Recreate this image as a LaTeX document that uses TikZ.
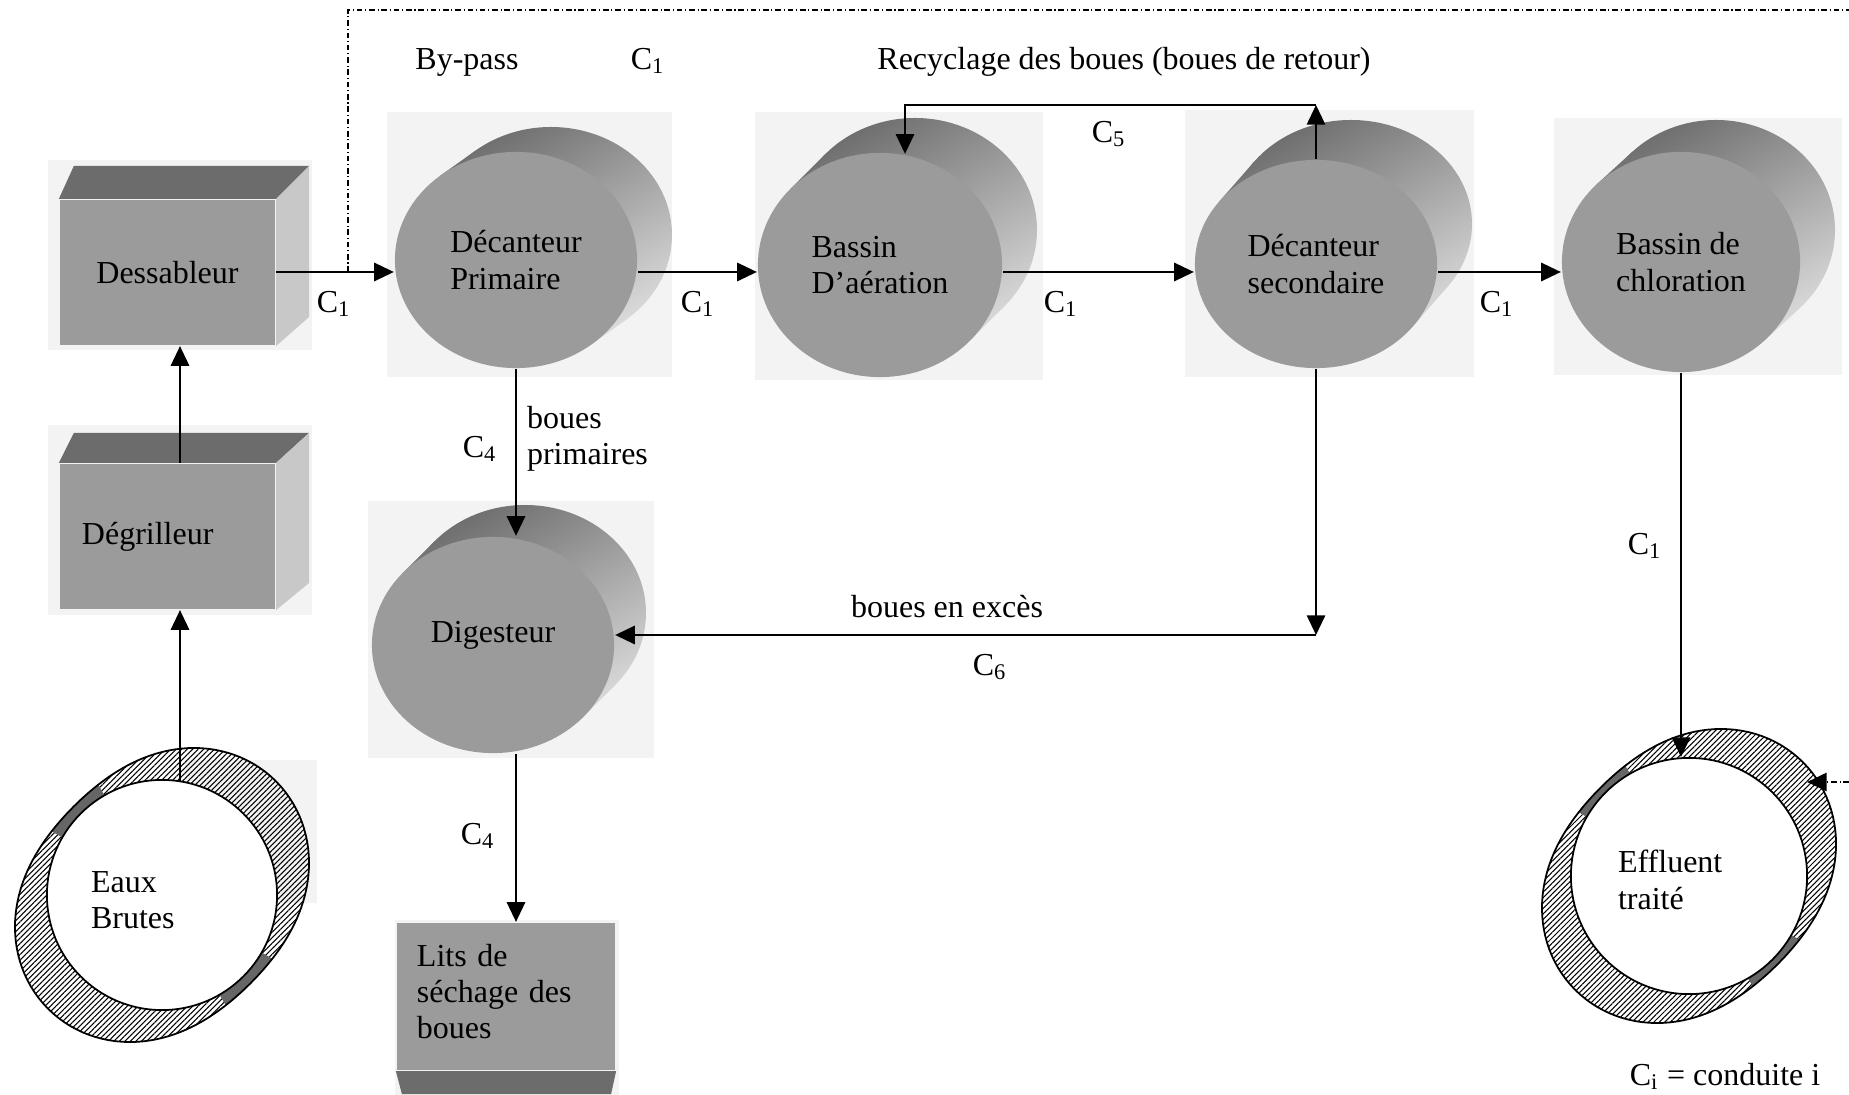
\documentclass[tikz,border=0pt]{standalone}
\usepackage{fontspec}
\setmainfont{Liberation Serif}
\usetikzlibrary{arrows.meta,shapes.geometric,patterns.meta,calc}

\definecolor{faceG}{HTML}{9B9B9B}
\definecolor{topG}{HTML}{6C6C6C}
\definecolor{sideG}{HTML}{C8C8C8}
\definecolor{bodyDark}{HTML}{6A6A6A}
\definecolor{bodyLight}{HTML}{E2E2E2}
\definecolor{plateG}{HTML}{F3F3F3}

% Cylindrical tank: #1 name, (#2,#3) front centre, #4/#5 radii, (#6,#7) depth offset, #8 label
\newcommand{\tank}[8]{%
  \pgfmathsetmacro{\tkT}{atan2(-(#5)*(#6),(#4)*(#7))}%
  \pgfmathsetmacro{\tkX}{(#4)*cos(\tkT)}%
  \pgfmathsetmacro{\tkY}{(#5)*sin(\tkT)}%
  \begin{scope}
    \clip ({#2+(\tkX)},{#3+(\tkY)}) -- ++(#6,#7) -- ({#2-(\tkX)+#6},{#3-(\tkY)+#7}) -- ({#2-(\tkX)},{#3-(\tkY)}) -- cycle;
    \shade[tankshade] ({#2-#4},{#3+#7-#5}) rectangle ({#2+#6+#4},{#3+#5});
  \end{scope}
  \begin{scope}
    \clip ({#2+#6},{#3+#7}) ellipse [x radius=#4, y radius=#5];
    \shade[tankshade] ({#2-#4},{#3+#7-#5}) rectangle ({#2+#6+#4},{#3+#5});
  \end{scope}
  \node[tankfront, minimum width={0.02cm*#4}, minimum height={0.02cm*#5}] (#1) at (#2,#3) {#8};
}

% Outer contour of a ring, pinched towards the upper-left and lower-right
\newcommand{\ringpath}[2]{%
  plot[domain=0:360, samples=145, variable=\ang]
    ({#1+(161-36*sin(\ang-45)^2)*cos(\ang)}, {#2-(161-36*sin(\ang-45)^2)*sin(\ang)}) -- cycle}

% Hatched ring: #1 name, (#2,#3) centre, #4 inner radius
\newcommand{\hatchring}[4]{%
  \begin{scope}
    \clip \ringpath{#2}{#3};
    \fill[pattern={Lines[angle=45,distance=1.1pt,line width=0.3pt]}]
      ({#2-175},{#3-175}) rectangle ({#2+175},{#3+175});
    \fill[black!60] (#2,#3) -- ($(#2,#3)+(-120:200)$) -- ($(#2,#3)+(-150:200)$) -- cycle;
    \fill[black!60] (#2,#3) -- ($(#2,#3)+(30:200)$) -- ($(#2,#3)+(60:200)$) -- cycle;
  \end{scope}
  \draw[line width=0.5pt] \ringpath{#2}{#3};
  \node[circle, fill=white, draw, line width=0.5pt, minimum size={0.02cm*#4}] (#1) at (#2,#3) {};
}

\begin{document}
\begin{tikzpicture}[x=0.01cm, y=-0.01cm, line width=0.6pt,
  every node/.style={font=\fontsize{9.1}{10.3}\selectfont, inner sep=0pt},
  arr/.style={-{Triangle[length=5.6pt,width=5.2pt]}},
  bypass/.style={dash pattern=on 1.6pt off 0.8pt on 0.3pt off 0.8pt, line width=0.6pt},
  plate/.style={fill=plateG},
  boxfront/.style={rectangle, fill=faceG, minimum width=2.15cm, minimum height=1.45cm},
  boxtop/.style={fill=topG},
  boxside/.style={fill=sideG},
  tankfront/.style={ellipse, fill=faceG, align=left},
  tankshade/.style={top color=bodyDark, bottom color=bodyLight, shading angle=30}]

\useasboundingbox (0,0) rectangle (1849,1095);

% light backing plates behind the units
\fill[plate] (48,160) rectangle (312,350);
\fill[plate] (48,425) rectangle (312,615);
\fill[plate] (387,112) rectangle (672,377);
\fill[plate] (755,112) rectangle (1043,380);
\fill[plate] (1185,110) rectangle (1474,377);
\fill[plate] (1554,118) rectangle (1842,375);
\fill[plate] (368,501) rectangle (654,758);
\fill[plate] (395,920) rectangle (619,1095);
\fill[plate] (185,760) rectangle (317,903);

% pretreatment boxes
\node[boxfront] (des) at (167.5,272.5) {Dessableur};
\fill[boxtop] (des.north west) -- (des.north east) -- ++(33,-33) -- ($(des.north west)+(15,-33)$) -- cycle;
\fill[boxside] (des.north east) -- ++(33,-33) -- ++(0,151) -- (des.south east) -- cycle;

\node[boxfront, text width=1.71cm, align=left] (deg) at (167.5,536.5) {Dégrilleur};
\fill[boxtop] (deg.north west) -- (deg.north east) -- ++(33,-30) -- ($(deg.north west)+(15,-30)$) -- cycle;
\fill[boxside] (deg.north east) -- ++(33,-30) -- ++(0,150) -- (deg.south east) -- cycle;

\node[boxfront, minimum width=2.18cm, minimum height=1.47cm, text width=1.78cm, align=left] (lits) at (506,996.5) {Lits de\\séchage des\\boues\vspace{0.1cm}};
\fill[topG] (lits.south west) -- (lits.south east) -- ++(-5,23) -- ($(lits.south west)+(6,23)$) -- cycle;

% tanks
\tank{dp}{516}{260}{121}{108}{35}{-25}{Décanteur\\Primaire}
\tank{ba}{880}{265}{122}{112}{35}{-35}{Bassin\\D’aération}
\tank{ds}{1316}{264}{121}{104}{35}{-40}{Décanteur\\secondaire}
\tank{chl}{1681}{262}{119}{110}{35}{-32}{Bassin de\\chloration}
\tank{dig}{493}{645}{121}{108}{32}{-32}{Digesteur\rule[-7.4pt]{0pt}{0pt}}

% inlet and outlet
\hatchring{eb}{162}{895}{115}
\node[anchor=west, align=left] (ebtxt) at (90,900) {Eaux\\Brutes};
\hatchring{eff}{1689}{876}{118}
\node[anchor=west, align=left] (efftxt) at (1617,880) {Effluent\\traité};

% reference levels and free ends
\coordinate (mainY) at (0,272);
\coordinate (recY) at (0,105);
\coordinate (excY) at (0,635);
\coordinate (ebTop) at (180,781);
\coordinate (bpX) at (348,0);
\coordinate (topY) at (0,10);
\coordinate (edgeTop) at (1849,10);
\coordinate (edgeSide) at (1849,782);
\coordinate (effIn) at (1807,782);

% main line
\draw[arr] (ebTop) -- (ebTop |- deg.south);
\draw[arr] (ebTop |- deg.north) -- (ebTop |- des.south);
\draw[arr] (des.east |- mainY) -- (dp.west |- mainY);
\draw[arr] (dp.east |- mainY) -- (ba.west |- mainY);
\draw[arr] (ba.east |- mainY) -- (ds.west |- mainY);
\draw[arr] (ds.east |- mainY) -- (chl.west |- mainY);
\draw[arr] (chl.south) -- (chl.south |- eff.north);

% by-pass
\draw[bypass] (bpX |- mainY) -- (bpX |- topY) -- (edgeTop);
\draw[bypass, arr] (edgeSide) -- (effIn);

% sludge lines
\draw[arr] (ds.north) -- (ds.north |- recY);
\draw[arr] (ds.north |- recY) -- ($(ba.north |- recY)+(25,0)$) -- ($(ba.north)+(25,2)$);
\draw[arr] (dp.south) -- (dp.south |- dig.north);
\draw[arr] (ds.south) -- (ds.south |- excY);
\draw[arr] (ds.south |- excY) -- (dig.east |- excY);
\draw[arr] (dig.south -| dp.south) -- (dp.south |- lits.north);

% labels
\node (lbBy) at (467,62) {By-pass};
\node (lbC1a) at (648,61) {C\textsubscript{1}};
\node (lbRec) at (1124,62) {Recyclage des boues (boues de retour)};
\node (lbC5) at (1109,134) {C\textsubscript{5}};
\node (lbC1b) at (334,304) {C\textsubscript{1}};
\node (lbC1c) at (698,304) {C\textsubscript{1}};
\node (lbC1d) at (1061,304) {C\textsubscript{1}};
\node (lbC1e) at (1497,304) {C\textsubscript{1}};
\node (lbC1f) at (1645,546) {C\textsubscript{1}};
\node (lbC4a) at (480,449) {C\textsubscript{4}};
\node[anchor=west, align=left] (lbPrim) at (526,439) {boues\\primaires};
\node (lbExc) at (947,607) {boues en excès};
\node (lbC6) at (990,667) {C\textsubscript{6}};
\node (lbC4b) at (478,836) {C\textsubscript{4}};
\node (lbKey) at (1725,1076) {C\textsubscript{i} = conduite i};

\end{tikzpicture}
\end{document}
